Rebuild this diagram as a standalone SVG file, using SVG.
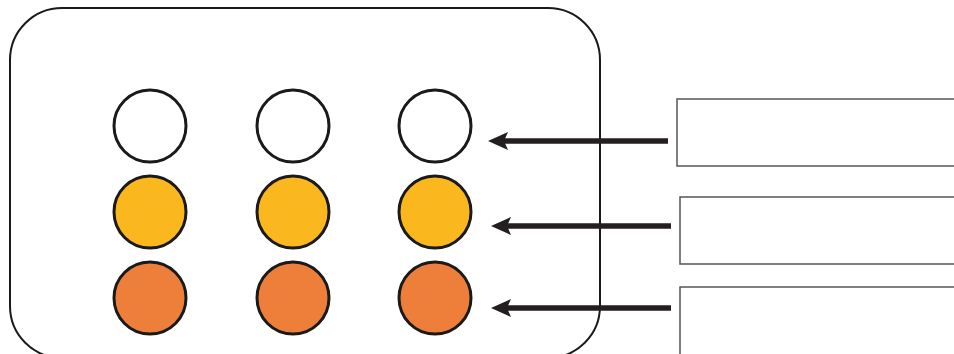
<svg xmlns="http://www.w3.org/2000/svg" width="954" height="354" viewBox="0 0 954 354">
<style>
.c{stroke:#1a1a1a;stroke-width:3}
.w{fill:#ffffff}
.y{fill:#FBB81E}
.o{fill:#EE7F3B}
.box{fill:#ffffff;stroke:#555555;stroke-width:1.5}
.ar{stroke:#231f20;stroke-width:5.5;fill:none;marker-end:url(#ah)}
</style>
<defs>
<marker id="ah" markerUnits="userSpaceOnUse" markerWidth="22" markerHeight="20" refX="4" refY="10" orient="auto" overflow="visible">
<path d="M0,1 L20,10 L0,19 L4,10 Z" fill="#231f20"/>
</marker>
</defs>
<rect width="954" height="354" fill="#ffffff"/>
<g id="plate">
<rect x="10" y="8" width="590" height="350" rx="52" ry="52" fill="none" stroke="#1a1a1a" stroke-width="2"/>
</g>
<g id="row1">
<circle class="c w" cx="150" cy="126" r="36"/>
<circle class="c w" cx="293" cy="126" r="36"/>
<circle class="c w" cx="435" cy="126" r="36"/>
</g>
<g id="row2">
<circle class="c y" cx="150" cy="212" r="36"/>
<circle class="c y" cx="293" cy="212" r="36"/>
<circle class="c y" cx="435" cy="212" r="36"/>
</g>
<g id="row3">
<circle class="c o" cx="150" cy="298" r="36"/>
<circle class="c o" cx="293" cy="298" r="36"/>
<circle class="c o" cx="435" cy="298" r="36"/>
</g>
<g id="box1"><rect class="box" x="677" y="99" width="290" height="67"/></g>
<g id="box2"><rect class="box" x="680" y="197" width="290" height="67"/></g>
<g id="box3"><rect class="box" x="680" y="287" width="290" height="90"/></g>
<g id="connectors">
<line class="ar" x1="668" y1="141" x2="504" y2="141"/>
<line class="ar" x1="671" y1="226" x2="507" y2="226"/>
<line class="ar" x1="671" y1="308" x2="507" y2="308"/>
</g>
</svg>
